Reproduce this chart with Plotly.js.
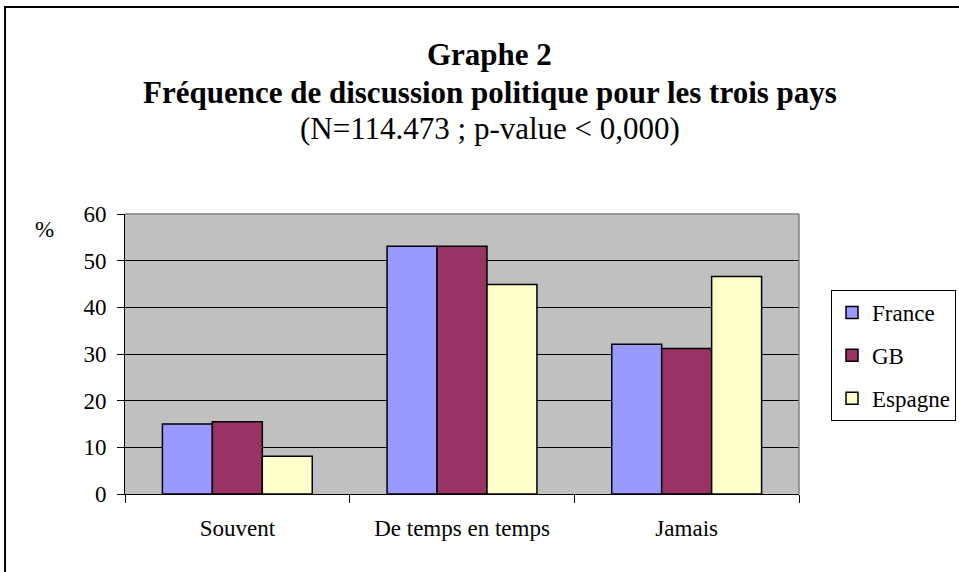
<!DOCTYPE html>
<html>
<head>
<meta charset="utf-8">
<script src="https://cdn.plot.ly/plotly-3.0.1.min.js"></script>
<style>
html,body{margin:0;padding:0;background:#fff;}
#chart{width:959px;height:572px;}
</style>
</head>
<body>
<div id="chart"></div>
<script>
var categories = ["Souvent", "De temps en temps", "Jamais"];
var seriesNames = ["France", "GB", "Espagne"];
var france = [15.0, 53.1, 32.1];
var gb = [15.5, 53.1, 31.2];
var espagne = [8.1, 44.9, 46.6];
var seriesColors = ["#9999FF", "#993366", "#FFFFCC"];
var yTicks = [0, 10, 20, 30, 40, 50, 60];
var titleLine1 = "Graphe 2";
var titleLine2 = "Fréquence de discussion politique pour les trois pays";
var titleLine3 = "(N=114.473 ; p-value < 0,000)";

var serif = "Liberation Serif";
var values = [france, gb, espagne];
var traces = values.map(function(v, i){
  return {
    type: "bar",
    name: seriesNames[i],
    x: categories,
    y: v,
    legendgroup: "g" + i,
    marker: {color: seriesColors[i], line: {color: "#000", width: 1.5}},
    hoverinfo: "none"
  };
});

var layout = {
  width: 959, height: 572,
  margin: {l: 125, r: 160, t: 214, b: 78, autoexpand: false},
  font: {family: serif, color: "#000"},
  paper_bgcolor: "#fff",
  plot_bgcolor: "#C0C0C0",
  barmode: "group",
  bargap: 0.333,
  bargroupgap: 0,
  showlegend: true,
  legend: {
    x: 1.0475, xanchor: "left", y: 0.7286, yanchor: "top",
    bordercolor: "#000", borderwidth: 1, bgcolor: "#fff",
    font: {family: serif, size: 23, color: "#000"},
    traceorder: "grouped", tracegroupgap: 10
  },
  xaxis: {
    type: "category",
    showline: true, linecolor: "#000", linewidth: 1,
    ticks: "outside", tickson: "boundaries", ticklen: 8, tickcolor: "#000",
    tickfont: {family: serif, size: 23, color: "#000"},
    ticklabelstandoff: 13,
    showgrid: false, zeroline: false, fixedrange: true
  },
  yaxis: {
    range: [0, 60],
    tickvals: yTicks,
    ticktext: yTicks.map(String),
    showline: true, linecolor: "#000", linewidth: 1,
    ticks: "outside", ticklen: 7, tickcolor: "#000",
    tickfont: {family: serif, size: 23, color: "#000"},
    ticklabelstandoff: 6,
    showgrid: true, gridcolor: "#000", gridwidth: 1,
    zeroline: false, fixedrange: true
  },
  shapes: [
    {type: "line", xref: "paper", yref: "paper", x0: 0, x1: 1, y0: 1, y1: 1, line: {color: "#808080", width: 1.5}},
    {type: "line", xref: "paper", yref: "paper", x0: 1, x1: 1, y0: 0, y1: 1, line: {color: "#808080", width: 1.5}},
    {type: "rect", xref: "paper", yref: "paper", x0: -0.178, x1: 1.25, y0: -0.29, y1: 1.739, line: {color: "#000", width: 2}}
  ],
  annotations: [
    {xref: "paper", yref: "paper", x: 0.5415, y: 1.5714, xanchor: "center", yanchor: "middle", showarrow: false,
     text: "<b>" + titleLine1 + "</b>", font: {family: serif, size: 31, color: "#000"}},
    {xref: "paper", yref: "paper", x: 0.5415, y: 1.4357, xanchor: "center", yanchor: "middle", showarrow: false,
     text: "<b>" + titleLine2 + "</b>", font: {family: serif, size: 31, color: "#000"}},
    {xref: "paper", yref: "paper", x: 0.5415, y: 1.307, xanchor: "center", yanchor: "middle", showarrow: false,
     text: titleLine3, font: {family: serif, size: 31, color: "#000"}},
    {xref: "paper", yref: "paper", x: -0.1187, y: 0.943, xanchor: "center", yanchor: "middle", showarrow: false,
     text: "%", font: {family: serif, size: 23, color: "#000"}}
  ]
};

Plotly.newPlot("chart", traces, layout, {displayModeBar: false, staticPlot: true});
</script>
</body>
</html>
